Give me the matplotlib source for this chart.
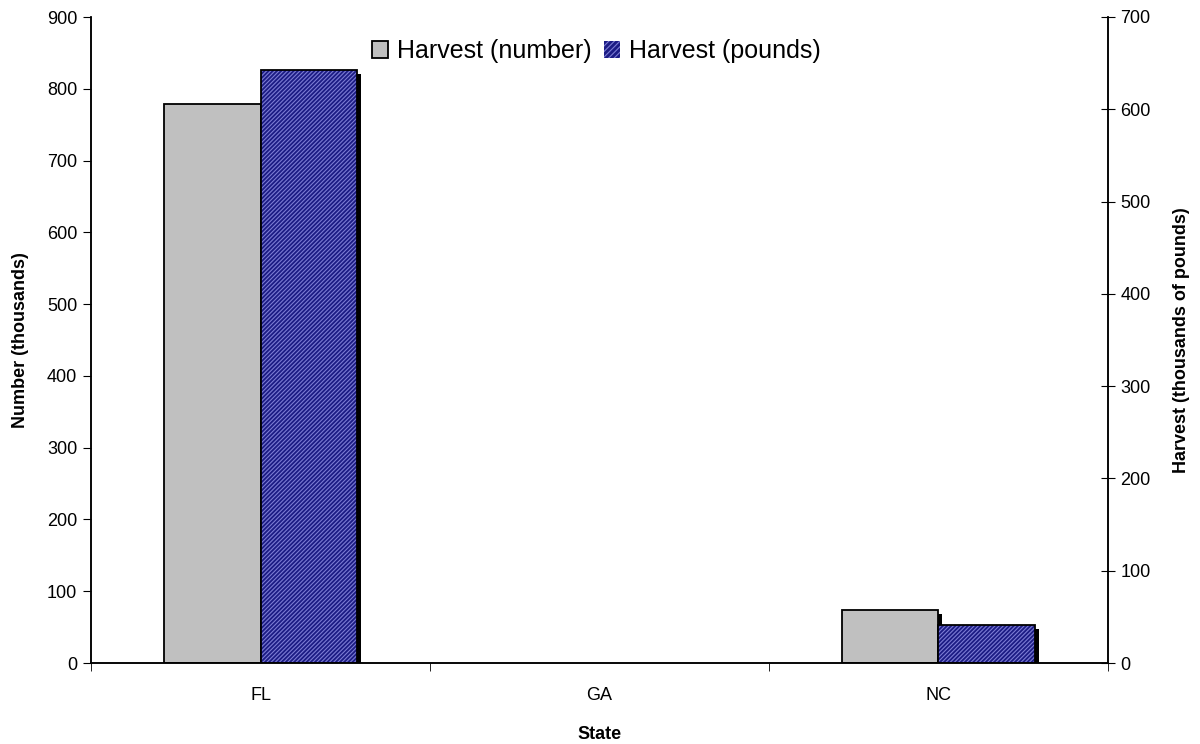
import numpy as np
import matplotlib.pyplot as plt
from matplotlib.patches import Patch
from matplotlib.transforms import offset_copy

plt.rcParams['font.family'] = ['Liberation Sans', 'DejaVu Sans']
plt.rcParams['hatch.linewidth'] = 0.8

states = ['FL', 'GA', 'NC']
harvest_number = [779, 0, 74]   # thousands, left axis
harvest_pounds = [643, 0, 41]   # thousands of pounds, right axis

x = np.arange(len(states))
w = 0.286
navy = '#1c1c84'
hatch_col = '#7c7cd4'

fig = plt.figure(figsize=(12, 7.44), dpi=100)
ax = fig.add_axes([91/1200, 1-663/744, (1108-91)/1200, (663-17)/744])
ax2 = ax.twinx()

# drop shadows (black, offset right/down)
sh1 = offset_copy(ax.transData, fig=fig, x=4, y=-4, units='dots')
sh2 = offset_copy(ax2.transData, fig=fig, x=4, y=-4, units='dots')
for i in range(len(states)):
    if harvest_number[i] > 0:
        ax.bar(x[i] - w/2, harvest_number[i], w, color='black', linewidth=0,
               transform=sh1, zorder=1)
        ax.bar(x[i] - w/2, harvest_number[i], w, color='#c0c0c0', edgecolor='black',
               linewidth=1.3, zorder=2)
    if harvest_pounds[i] > 0:
        ax2.bar(x[i] + w/2, harvest_pounds[i], w, color='black', linewidth=0,
                transform=sh2, zorder=1)
        ax2.bar(x[i] + w/2, harvest_pounds[i], w, color=navy, edgecolor=hatch_col,
                linewidth=0, hatch='////////', zorder=2)
        ax2.bar(x[i] + w/2, harvest_pounds[i], w, color='none', edgecolor='black',
                linewidth=1.3, zorder=3)

ax.set_xlim(-0.5, 2.5)
ax.set_ylim(0, 900)
ax.set_yticks(np.arange(0, 901, 100))
ax2.set_ylim(0, 700)
ax2.set_yticks(np.arange(0, 701, 100))

ax.set_xticks(x)
ax.set_xticklabels(states)
ax.set_xticks([-0.5, 0.5, 1.5, 2.5], minor=True)
ax.tick_params(axis='x', which='major', length=0, pad=17, labelsize=13)
ax.tick_params(axis='x', which='minor', length=6, direction='out')
ax.tick_params(axis='y', length=6, direction='out', labelsize=13, pad=4)
ax2.tick_params(axis='y', length=10, direction='inout', labelsize=13, pad=4)

for a in (ax, ax2):
    a.spines['top'].set_visible(False)
    for s in ('left', 'right', 'bottom'):
        a.spines[s].set_linewidth(1.1)

ax.set_xlabel('State', fontsize=13, fontweight='bold', labelpad=16)
ax.set_ylabel('Number (thousands)', fontsize=13, fontweight='bold', labelpad=13)
ax2.set_ylabel('Harvest (thousands of pounds)', fontsize=13, fontweight='bold', labelpad=16)

handles = [Patch(facecolor='#c0c0c0', edgecolor='black', linewidth=1.3),
           Patch(facecolor=navy, edgecolor=hatch_col, hatch='//////', linewidth=0)]
leg = ax2.legend(handles, ['Harvest (number)', 'Harvest (pounds)'],
                 loc='upper center', bbox_to_anchor=(0.497, 1.0), ncol=2, frameon=False,
                 fontsize=18, handlelength=0.65, handleheight=0.65, handletextpad=0.35,
                 columnspacing=0.5)

fig.savefig('out.png', dpi=100)
